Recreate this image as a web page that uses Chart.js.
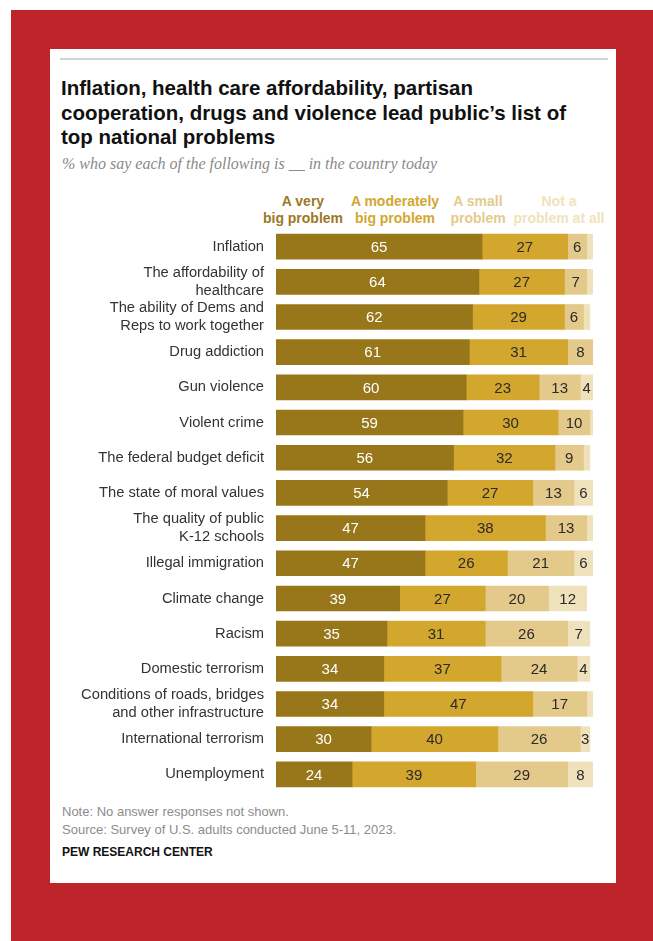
<!DOCTYPE html>
<html>
<head>
<meta charset="utf-8">
<script src="https://cdn.jsdelivr.net/npm/chart.js@4.4.1/dist/chart.umd.min.js"></script>
<style>
  body { margin: 0; width: 653px; height: 941px; background: #fff; position: relative; overflow: hidden; font-family: "Liberation Sans", Arial, sans-serif; }
  #frame { position: absolute; left: 11px; top: 10px; right: 0; bottom: 0; background: #be252a; }
  #card { position: absolute; left: 50px; top: 49px; width: 566px; height: 834px; background: #fff; }
  #rule { position: absolute; left: 10px; top: 9px; width: 548px; height: 2px; background: #d4d4d4; }
  #title { position: absolute; left: 11px; top: 27px; width: 550px; font-size: 20.5px; font-weight: bold; line-height: 24.5px; color: #111; white-space: nowrap; }
  #subtitle { position: absolute; left: 12px; top: 106px; font-family: "Liberation Serif", Georgia, serif; font-style: italic; font-size: 16px; color: #8a8a8a; }
  .hdr { position: absolute; top: 144px; font-size: 14px; font-weight: bold; line-height: 17px; text-align: center; transform: translateX(-50%); white-space: nowrap; }
  #chart { position: absolute; left: 50px; top: 208px; }
  .foot { position: absolute; left: 12px; font-size: 13px; color: #8c8c8c; }
  #pew { position: absolute; left: 12px; top: 796px; font-size: 12px; font-weight: bold; color: #111; }
</style>
</head>
<body>
<div id="frame"></div>
<div id="card">
  <div id="rule"></div>
  <div id="title">Inflation, health care affordability, partisan<br>cooperation, drugs and violence lead public’s list of<br>top national problems</div>
  <div id="subtitle">% who say each of the following is __ in the country today</div>
  <div class="hdr" style="left:253px;color:#9a7a1f">A very<br>big problem</div>
  <div class="hdr" style="left:345px;color:#d2a72f">A moderately<br>big problem</div>
  <div class="hdr" style="left:428px;color:#e3cb8c">A small<br>problem</div>
  <div class="hdr" style="left:509px;color:#f0e2bb">Not a<br>problem at all</div>
  <div class="foot" style="top:755px">Note: No answer responses not shown.</div>
  <div class="foot" style="top:773px">Source: Survey of U.S. adults conducted June 5-11, 2023.</div>
  <div id="pew">PEW RESEARCH CENTER</div>
</div>
<canvas id="chart" width="566" height="605"></canvas>
<script>
const categories = [
  "Inflation",
  ["The affordability of", "healthcare"],
  ["The ability of Dems and", "Reps to work together"],
  "Drug addiction",
  "Gun violence",
  "Violent crime",
  "The federal budget deficit",
  "The state of moral values",
  ["The quality of public", "K-12 schools"],
  "Illegal immigration",
  "Climate change",
  "Racism",
  "Domestic terrorism",
  ["Conditions of roads, bridges", "and other infrastructure"],
  "International terrorism",
  "Unemployment"
];
const veryBig    = [65, 64, 62, 61, 60, 59, 56, 54, 47, 47, 39, 35, 34, 34, 30, 24];
const moderately = [27, 27, 29, 31, 23, 30, 32, 27, 38, 26, 27, 31, 37, 47, 40, 39];
const small      = [6, 7, 6, 8, 13, 10, 9, 13, 13, 21, 20, 26, 24, 17, 26, 29];
const notAtAll   = [2, 2, 2, 0, 4, 1, 2, 6, 2, 6, 12, 7, 4, 2, 3, 8];

const colors = ["#977719", "#d3a62e", "#e3ca8b", "#efe1bb"];
const textColors = ["#ffffff", "#2a2a2a", "#2a2a2a", "#2a2a2a"];
const minLabel = [1, 1, 1, 3];

const segLabels = {
  id: "segLabels",
  afterDatasetsDraw(chart) {
    const ctx = chart.ctx;
    ctx.save();
    ctx.font = "15px 'Liberation Sans', Arial, sans-serif";
    ctx.textAlign = "center";
    ctx.textBaseline = "middle";
    chart.data.datasets.forEach((ds, di) => {
      const meta = chart.getDatasetMeta(di);
      meta.data.forEach((bar, i) => {
        const v = ds.data[i];
        if (v < minLabel[di]) return;
        ctx.fillStyle = textColors[di];
        ctx.fillText(v, (bar.x + bar.base) / 2, bar.y + 1);
      });
    });
    ctx.restore();
  }
};

new Chart(document.getElementById("chart"), {
  type: "bar",
  data: {
    labels: categories,
    datasets: [
      { label: "A very big problem", data: veryBig, backgroundColor: colors[0] },
      { label: "A moderately big problem", data: moderately, backgroundColor: colors[1] },
      { label: "A small problem", data: small, backgroundColor: colors[2] },
      { label: "Not a problem at all", data: notAtAll, backgroundColor: colors[3] }
    ]
  },
  options: {
    indexAxis: "y",
    responsive: false,
    animation: false,
    barThickness: 25,
    layout: { padding: { left: 0, right: 23, top: 0, bottom: 0 } },
    plugins: { legend: { display: false }, tooltip: { enabled: false } },
    scales: {
      x: { stacked: true, min: 0, max: 100, display: false },
      y: {
        stacked: true,
        grid: { display: false, drawTicks: false },
        border: { display: false },
        ticks: {
          autoSkip: false,
          color: "#333",
          padding: 12,
          font: { family: "'Liberation Sans', Arial, sans-serif", size: 14.7, lineHeight: 1.23 }
        },
        afterFit(scale) { scale.width = 226; }
      }
    }
  },
  plugins: [segLabels]
});
</script>
</body>
</html>
